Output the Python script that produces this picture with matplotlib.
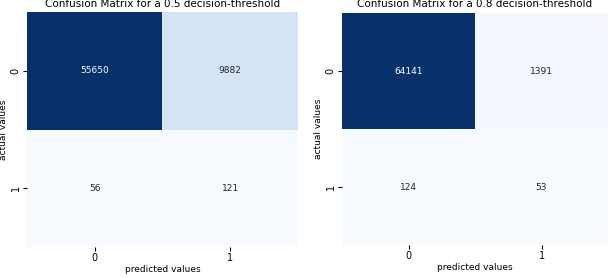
import matplotlib
matplotlib.use("Agg")
import matplotlib.pyplot as plt
import seaborn as sns
import numpy as np

# confusion matrices
thresholds = ["0.5", "0.8"]
cm_05 = [[55650, 9882], [56, 121]]
cm_08 = [[64141, 1391], [124, 53]]
class_labels = ["0", "1"]

fig = plt.figure(figsize=(6.09, 2.77), dpi=100)
ax1 = fig.add_axes([0.0443, 0.1083, 0.445, 0.848])
ax2 = fig.add_axes([0.5616, 0.1155, 0.4368, 0.8375])

for ax, cm, thr in zip([ax1, ax2], [cm_05, cm_08], thresholds):
    sns.heatmap(np.array(cm), annot=True, fmt="d", cmap="Blues", cbar=False,
                ax=ax, annot_kws={"fontsize": 6.5},
                xticklabels=class_labels, yticklabels=class_labels)
    ax.set_title(f"Confusion Matrix for a {thr} decision-threshold", fontsize=7.5, pad=4)
    ax.set_xlabel("predicted values", fontsize=6.5, labelpad=1)
    ax.set_ylabel("actual values", fontsize=6.5, labelpad=2)
    ax.tick_params(labelsize=7, length=3, pad=1.5)

fig.savefig("out.png", dpi=100)
